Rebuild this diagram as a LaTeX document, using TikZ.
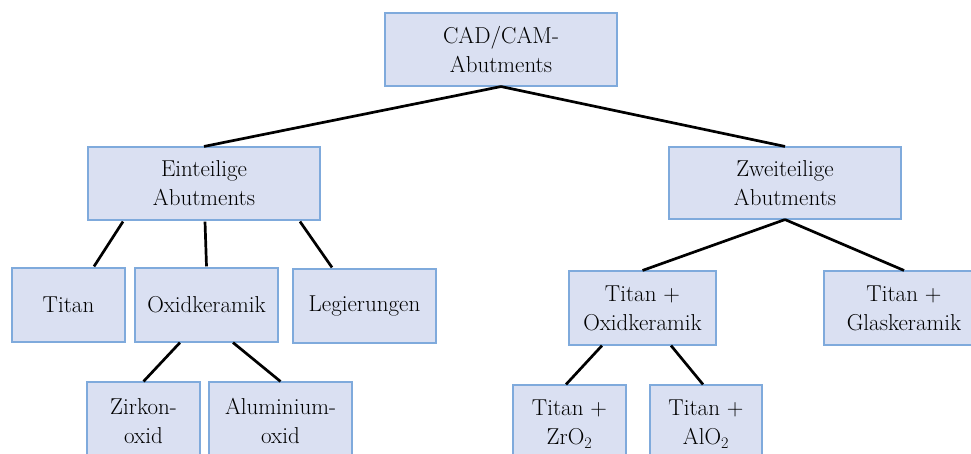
\documentclass[tikz,border=0pt]{standalone}
\definecolor{boxfill}{RGB}{218,224,242}
\definecolor{boxline}{RGB}{127,170,220}
\tikzset{
  box/.style={draw=boxline, fill=boxfill, line width=1.1pt, inner sep=0pt, align=center,
    font=\fontsize{23}{29}\selectfont},
  link/.style={line width=2.7pt, black}
}
\begin{document}
\begin{tikzpicture}[x=1pt,y=1pt]
\useasboundingbox (0,0) rectangle (971,-453);
\node[box, minimum width=232, minimum height=73] (root) at (501,-49.5) {CAD/CAM-\\Abutments};
\node[box, minimum width=232, minimum height=73] (ein) at (204,-183.5) {Einteilige\\Abutments};
\node[box, minimum width=232, minimum height=72] (zwei) at (785,-183) {Zweiteilige\\Abutments};
\node[box, minimum width=113, minimum height=74] (titan) at (68.5,-305) {Titan};
\node[box, minimum width=143, minimum height=74] (oxid) at (206.5,-305) {Oxidkeramik};
\node[box, minimum width=143, minimum height=74] (leg) at (364.5,-306) {Legierungen};
\node[box, minimum width=113, minimum height=78] (zirk) at (143.5,-421) {Zirkon-\\oxid};
\node[box, minimum width=143, minimum height=78] (alu) at (280.5,-421) {Aluminium-\\oxid};
\node[box, minimum width=147, minimum height=74] (tox) at (642.5,-308) {Titan +\\Oxidkeramik};
\node[box, minimum width=160, minimum height=74] (tgl) at (904,-308) {Titan +\\Glaskeramik};
\node[box, minimum width=113, minimum height=78] (tzr) at (569.5,-424) {Titan +\\ZrO\textsubscript{2}};
\node[box, minimum width=112, minimum height=78] (tal) at (706,-424) {Titan +\\AlO\textsubscript{2}};
\draw[link] (root.south) -- (ein.north);
\draw[link] (root.south) -- (zwei.north);
\draw[link] ([xshift=-81pt,yshift=-1pt]ein.south) -- ([xshift=25.5pt,yshift=1pt]titan.north);
\draw[link] ([xshift=1pt,yshift=-1pt]ein.south) -- ([yshift=1pt]oxid.north);
\draw[link] ([xshift=96pt,yshift=-1pt]ein.south) -- ([xshift=-32.5pt,yshift=1pt]leg.north);
\draw[link] ([xshift=-26.5pt]oxid.south) -- (zirk.north);
\draw[link] ([xshift=26.5pt]oxid.south) -- (alu.north);
\draw[link] (zwei.south) -- (tox.north);
\draw[link] (zwei.south) -- (tgl.north);
\draw[link] ([xshift=-40.5pt]tox.south) -- ([xshift=-3.5pt]tzr.north);
\draw[link] ([xshift=28.5pt]tox.south) -- ([xshift=-3pt]tal.north);
\end{tikzpicture}
\end{document}
